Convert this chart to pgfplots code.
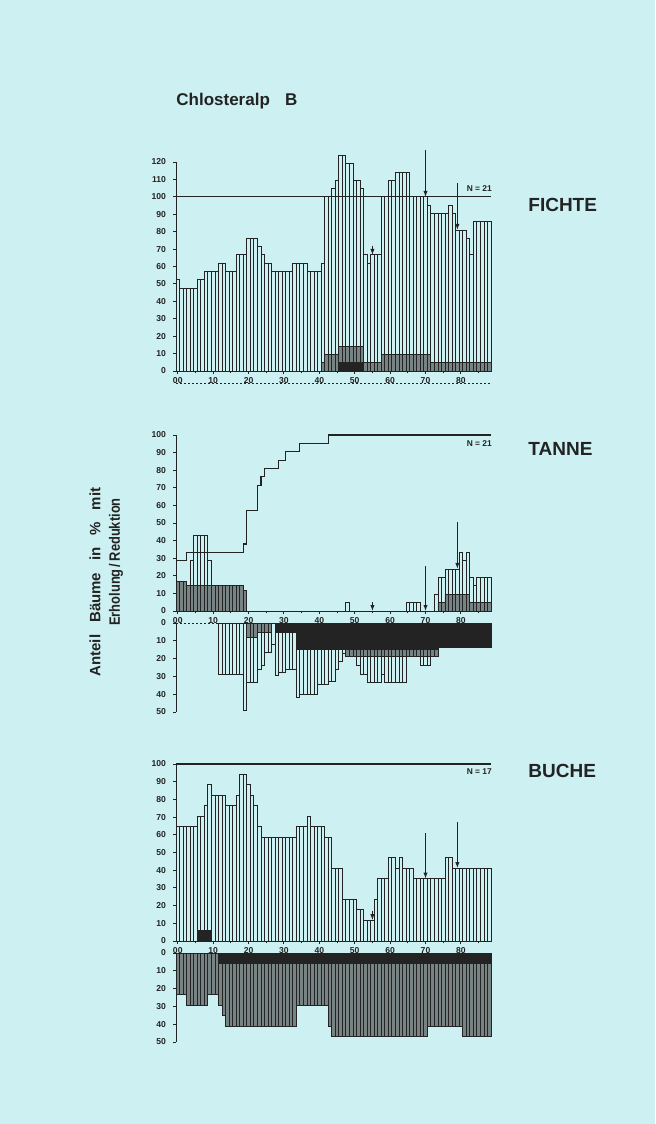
\documentclass[border=0pt]{standalone}
\usepackage{pgfplots}
\pgfplotsset{compat=1.18}
\usepackage{pgfplotstable}
\usetikzlibrary{arrows.meta}
\usepackage{fontspec}
\setmainfont{Liberation Sans}

\definecolor{paper}{RGB}{205,240,242}
\definecolor{ink}{RGB}{35,35,35}
\definecolor{shade}{RGB}{120,132,132}

% one row per year (00 = first year); nan = no bar
% fw/fg/fb: Fichte total / grey / black
% tw/tg: Tanne Erholung, tlw/tlg/tlb: Tanne Reduktion
% bw/bb: Buche Erholung, blg/blb: Buche Reduktion
\pgfplotstableread{
year fw fg fb tw tg tlw tlg tlb bw bb blg blb
0 52.4 nan nan 16.7 16.7 nan nan nan 64.7 nan 23.5 nan
1 47.6 nan nan 16.7 16.7 nan nan nan 64.7 nan 23.5 nan
2 47.6 nan nan 16.7 16.7 nan nan nan 64.7 nan 23.5 nan
3 47.6 nan nan 14.3 14.3 nan nan nan 64.7 nan 29.4 nan
4 47.6 nan nan 28.6 14.3 nan nan nan 64.7 nan 29.4 nan
5 47.6 nan nan 42.9 14.3 nan nan nan 64.7 nan 29.4 nan
6 52.4 nan nan 42.9 14.3 nan nan nan 70.6 5.9 29.4 nan
7 52.4 nan nan 42.9 14.3 nan nan nan 70.6 5.9 29.4 nan
8 57.1 nan nan 42.9 14.3 nan nan nan 76.5 5.9 29.4 nan
9 57.1 nan nan 28.6 14.3 nan nan nan 88.2 5.9 23.5 nan
10 57.1 nan nan 14.3 14.3 nan nan nan 82.4 nan 23.5 nan
11 57.1 nan nan 14.3 14.3 nan nan nan 82.4 nan 23.5 nan
12 61.9 nan nan 14.3 14.3 28.6 nan nan 82.4 nan 29.4 5.9
13 61.9 nan nan 14.3 14.3 28.6 nan nan 82.4 nan 35.3 5.9
14 57.1 nan nan 14.3 14.3 28.6 nan nan 76.5 nan 41.2 5.9
15 57.1 nan nan 14.3 14.3 28.6 nan nan 76.5 nan 41.2 5.9
16 57.1 nan nan 14.3 14.3 28.6 nan nan 76.5 nan 41.2 5.9
17 66.7 nan nan 14.3 14.3 28.6 nan nan 82.4 nan 41.2 5.9
18 66.7 nan nan 14.3 14.3 28.6 nan nan 94.1 nan 41.2 5.9
19 66.7 nan nan 11.9 11.9 49.0 nan nan 94.1 nan 41.2 5.9
20 76.2 nan nan nan nan 33.3 7.9 nan 88.2 nan 41.2 5.9
21 76.2 nan nan nan nan 33.3 7.9 nan 82.4 nan 41.2 5.9
22 76.2 nan nan nan nan 33.3 7.9 nan 76.5 nan 41.2 5.9
23 71.4 nan nan nan nan 26.2 5.5 nan 64.7 nan 41.2 5.9
24 66.7 nan nan nan nan 23.8 5.5 nan 58.8 nan 41.2 5.9
25 61.9 nan nan nan nan 16.7 5.5 nan 58.8 nan 41.2 5.9
26 61.9 nan nan nan nan 16.7 5.5 nan 58.8 nan 41.2 5.9
27 57.1 nan nan nan nan 11.9 nan nan 58.8 nan 41.2 5.9
28 57.1 nan nan nan nan 29.4 nan 5.4 58.8 nan 41.2 5.9
29 57.1 nan nan nan nan 27.5 nan 5.4 58.8 nan 41.2 5.9
30 57.1 nan nan nan nan 27.5 nan 5.4 58.8 nan 41.2 5.9
31 57.1 nan nan nan nan 26.2 nan 5.4 58.8 nan 41.2 5.9
32 57.1 nan nan nan nan 26.2 nan 5.4 58.8 nan 41.2 5.9
33 61.9 nan nan nan nan 26.2 nan 5.4 58.8 nan 41.2 5.9
34 61.9 nan nan nan nan 41.6 nan 14.8 64.7 nan 29.4 5.9
35 61.9 nan nan nan nan 40.0 nan 14.8 64.7 nan 29.4 5.9
36 61.9 nan nan nan nan 40.0 nan 14.8 64.7 nan 29.4 5.9
37 57.1 nan nan nan nan 40.0 nan 14.8 70.6 nan 29.4 5.9
38 57.1 nan nan nan nan 40.0 nan 14.8 64.7 nan 29.4 5.9
39 57.1 nan nan nan nan 40.0 nan 14.8 64.7 nan 29.4 5.9
40 57.1 nan nan nan nan 34.6 nan 14.8 64.7 nan 29.4 5.9
41 61.9 4.8 nan nan nan 34.6 nan 14.8 64.7 nan 29.4 5.9
42 100 9.5 nan nan nan 34.6 nan 14.8 58.8 nan 29.4 5.9
43 100 9.5 nan nan nan 32.8 nan 14.8 58.8 nan 41.2 5.9
44 104.8 9.5 nan nan nan 32.8 nan 14.8 41.2 nan 47.1 5.9
45 109.5 9.5 nan nan nan 26.2 nan 14.8 41.2 nan 47.1 5.9
46 123.8 14.3 4.8 nan nan 21.3 nan 14.8 41.2 nan 47.1 5.9
47 123.8 14.3 4.8 nan nan 17.2 nan 14.8 23.5 nan 47.1 5.9
48 119.0 14.3 4.8 4.8 nan 19.0 19.0 14.8 23.5 nan 47.1 5.9
49 119.0 14.3 4.8 nan nan 19.0 19.0 14.8 23.5 nan 47.1 5.9
50 109.5 14.3 4.8 nan nan 19.0 19.0 14.8 23.5 nan 47.1 5.9
51 109.5 14.3 4.8 nan nan 23.8 19.0 14.8 17.6 nan 47.1 5.9
52 104.8 14.3 4.8 nan nan 28.6 19.0 14.8 17.6 nan 47.1 5.9
53 66.7 4.8 nan nan nan 28.6 19.0 14.8 11.8 nan 47.1 5.9
54 61.9 4.8 nan nan nan 33.3 19.0 14.8 11.8 nan 47.1 5.9
55 66.7 4.8 nan nan nan 33.3 19.0 14.8 11.8 nan 47.1 5.9
56 66.7 4.8 nan nan nan 33.3 19.0 14.8 23.5 nan 47.1 5.9
57 66.7 4.8 nan nan nan 33.3 19.0 14.8 35.3 nan 47.1 5.9
58 100 9.5 nan nan nan 28.6 19.0 14.8 35.3 nan 47.1 5.9
59 100 9.5 nan nan nan 33.3 19.0 14.8 35.3 nan 47.1 5.9
60 109.5 9.5 nan nan nan 33.3 19.0 14.8 47.1 nan 47.1 5.9
61 109.5 9.5 nan nan nan 33.3 19.0 14.8 47.1 nan 47.1 5.9
62 114.3 9.5 nan nan nan 33.3 19.0 14.8 41.2 nan 47.1 5.9
63 114.3 9.5 nan nan nan 33.3 19.0 14.8 47.1 nan 47.1 5.9
64 114.3 9.5 nan nan nan 33.3 19.0 14.8 41.2 nan 47.1 5.9
65 114.3 9.5 nan 4.8 nan 19.0 19.0 14.8 41.2 nan 47.1 5.9
66 100 9.5 nan 4.8 nan 19.0 19.0 14.8 41.2 nan 47.1 5.9
67 100 9.5 nan 4.8 nan 19.0 19.0 14.8 35.3 nan 47.1 5.9
68 100 9.5 nan 4.8 nan 19.0 19.0 14.8 35.3 nan 47.1 5.9
69 100 9.5 nan nan nan 23.8 19.0 14.8 35.3 nan 47.1 5.9
70 100 9.5 nan nan nan 23.8 19.0 14.8 35.3 nan 47.1 5.9
71 95.2 9.5 nan nan nan 23.8 19.0 14.8 35.3 nan 41.2 5.9
72 90.5 4.8 nan nan nan 19.0 19.0 14.8 35.3 nan 41.2 5.9
73 90.5 4.8 nan 9.5 nan 19.0 19.0 14.8 35.3 nan 41.2 5.9
74 90.5 4.8 nan 19.0 4.8 nan nan 13.5 35.3 nan 41.2 5.9
75 90.5 4.8 nan 19.0 4.8 nan nan 13.5 35.3 nan 41.2 5.9
76 90.5 4.8 nan 23.8 9.5 nan nan 13.5 47.1 nan 41.2 5.9
77 95.2 4.8 nan 23.8 9.5 nan nan 13.5 47.1 nan 41.2 5.9
78 90.5 4.8 nan 23.8 9.5 nan nan 13.5 41.2 nan 41.2 5.9
79 81.0 4.8 nan 23.8 9.5 nan nan 13.5 41.2 nan 41.2 5.9
80 81.0 4.8 nan 33.3 9.5 nan nan 13.5 41.2 nan 41.2 5.9
81 81.0 4.8 nan 28.6 9.5 nan nan 13.5 41.2 nan 47.1 5.9
82 76.2 4.8 nan 33.3 9.5 nan nan 13.5 41.2 nan 47.1 5.9
83 66.7 4.8 nan 19.0 4.8 nan nan 13.5 41.2 nan 47.1 5.9
84 85.7 4.8 nan 14.3 4.8 nan nan 13.5 41.2 nan 47.1 5.9
85 85.7 4.8 nan 19.0 4.8 nan nan 13.5 41.2 nan 47.1 5.9
86 85.7 4.8 nan 19.0 4.8 nan nan 13.5 41.2 nan 47.1 5.9
87 85.7 4.8 nan 19.0 4.8 nan nan 13.5 41.2 nan 47.1 5.9
88 85.7 4.8 nan 19.0 4.8 nan nan 13.5 41.2 nan 47.1 5.9
}\jahre

\tikzset{
  pfeil/.style={ink, line width=0.5pt, -{Latex[length=3pt,width=2.2pt]}},
  punkte/.style={ink, line width=0.5pt, dash pattern=on 1pt off 1pt},
  nlabel/.style={font=\bfseries\fontsize{4.2}{4.2}\selectfont, text=ink},
}

\pgfplotsset{
  panel/.style={
    scale only axis, width=157.5pt,
    xmin=-0.5, xmax=88.5,
    clip=false,
    axis line style={-, ink, line width=0.5pt},
    tick style={ink, line width=0.5pt},
    tick align=outside,
    major tick length=1.5pt,
    minor tick length=1.2pt,
    ticklabel style={font=\bfseries\fontsize{4.3}{4.3}\selectfont, text=ink},
    /pgf/number format/assume math mode=true,
  },
  upper/.style={panel,
    axis y line*=left, axis x line*=bottom,
    xtick={0,10,...,80}, xticklabels={00,10,20,30,40,50,60,70,80},
    minor xtick={5,15,...,85},
    xticklabel style={yshift=1.6pt},
    ymin=0,
  },
  lower/.style={panel,
    axis y line*=left, axis x line=none, xtick=\empty,
    y dir=reverse, ymin=0, ymax=50, height=44.5pt,
    ytick={0,10,...,50},
  },
  weiss/.style={ybar, bar width=1, bar shift=0, draw=ink, fill=paper, line width=0.4pt},
  grau/.style={ybar, bar width=1, bar shift=0, draw=ink, fill=shade, line width=0.4pt},
  schwarz/.style={ybar, bar width=1, bar shift=0, draw=ink, fill=ink, line width=0.4pt},
}

\begin{document}
\begin{tikzpicture}
\fill[paper] (0,0) rectangle (327.5pt,-562pt);

% title, species, y label
\node[anchor=west, inner sep=0, text=ink, font=\bfseries\fontsize{8.5}{10}\selectfont]
  at (88pt,-50.8pt) {Chlosteralp\hspace{0.9em}B};
\node[anchor=west, inner sep=0, text=ink, font=\bfseries\fontsize{9.5}{11}\selectfont]
  at (264pt,-102.5pt) {FICHTE};
\node[anchor=west, inner sep=0, text=ink, font=\bfseries\fontsize{9.5}{11}\selectfont]
  at (264pt,-224.5pt) {TANNE};
\node[anchor=west, inner sep=0, text=ink, font=\bfseries\fontsize{9.5}{11}\selectfont]
  at (264pt,-385.5pt) {BUCHE};
\node[rotate=90, inner sep=0, text=ink, font=\bfseries\fontsize{7.5}{9}\selectfont]
  at (47.5pt,-291pt) {Anteil\hspace{0.8em}Bäume\hspace{0.8em}in\hspace{0.8em}\%\hspace{0.8em}mit};
\node[rotate=90, inner sep=0, text=ink, font=\bfseries\fontsize{7.5}{9}\selectfont]
  at (58pt,-281pt) {\scalebox{0.86}[1]{Erholung\,/\,Reduktion}};

% FICHTE
\begin{axis}[upper, at={(88pt,-185.5pt)}, anchor=south west,
  height=104.5pt, ymax=120, ytick={0,10,...,120}]
\addplot[weiss] table[x=year, y=fw] {\jahre};
\addplot[grau] table[x=year, y=fg] {\jahre};
\addplot[schwarz] table[x=year, y=fb] {\jahre};
\addplot[ink, line width=0.5pt] coordinates {(-0.5,100) (88.5,100)};
\draw[punkte] (axis cs:-0.5,-6.9) -- (axis cs:88.5,-6.9);
\draw[pfeil] (axis cs:70,127) -- (axis cs:70,100);
\draw[pfeil] (axis cs:79,108) -- (axis cs:79,81);
\draw[pfeil] (axis cs:55,72) -- (axis cs:55,66.7);
\node[nlabel] at (axis cs:85.2,104.5) {N = 21};
\end{axis}

% TANNE Reduktion (drawn first so the year labels above stay visible)
\begin{axis}[lower, at={(88pt,-311.5pt)}, anchor=north west]
\addplot[weiss] table[x=year, y=tlw] {\jahre};
\addplot[grau] table[x=year, y=tlg] {\jahre};
\addplot[schwarz] table[x=year, y=tlb] {\jahre};
\draw[punkte] (axis cs:-0.5,0) -- (axis cs:88.5,0);
\end{axis}

% TANNE Erholung
\begin{axis}[upper, at={(88pt,-305.5pt)}, anchor=south west,
  height=88pt, ymax=100, ytick={0,10,...,100}]
\addplot[weiss] table[x=year, y=tw] {\jahre};
\addplot[grau] table[x=year, y=tg] {\jahre};
\addplot[const plot, ink, line width=0.6pt] coordinates {
  (-0.5,28.6) (2.5,33.3) (18.5,38.1) (19.5,57.1) (22.5,71.4) (23.5,76.2)
  (24.5,81.0) (28.5,85.7) (30.5,90.5) (34.5,95.2) (42.5,100) (88.5,100)};
\draw[pfeil] (axis cs:70,25.5) -- (axis cs:70,0);
\draw[pfeil] (axis cs:79,50.5) -- (axis cs:79,24);
\draw[pfeil] (axis cs:55,5) -- (axis cs:55,0);
\node[nlabel] at (axis cs:85.2,95) {N = 21};
\end{axis}

% BUCHE Reduktion
\begin{axis}[lower, at={(88pt,-476.5pt)}, anchor=north west]
\addplot[grau] table[x=year, y=blg] {\jahre};
\addplot[schwarz] table[x=year, y=blb] {\jahre};
\draw[punkte] (axis cs:-0.5,0) -- (axis cs:88.5,0);
\end{axis}

% BUCHE Erholung
\begin{axis}[upper, at={(88pt,-470.5pt)}, anchor=south west,
  height=88.5pt, ymax=100, ytick={0,10,...,100}]
\addplot[weiss] table[x=year, y=bw] {\jahre};
\addplot[schwarz] table[x=year, y=bb] {\jahre};
\addplot[ink, line width=0.7pt] coordinates {(-0.5,100) (88.5,100)};
\draw[pfeil] (axis cs:70,61) -- (axis cs:70,35.3);
\draw[pfeil] (axis cs:79,67) -- (axis cs:79,41.2);
\draw[pfeil] (axis cs:55,17) -- (axis cs:55,11.8);
\node[nlabel] at (axis cs:85.2,95.5) {N = 17};
\end{axis}

\pgfresetboundingbox
\path[use as bounding box] (0,0) rectangle (327.5pt,-562pt);
\end{tikzpicture}
\end{document}
